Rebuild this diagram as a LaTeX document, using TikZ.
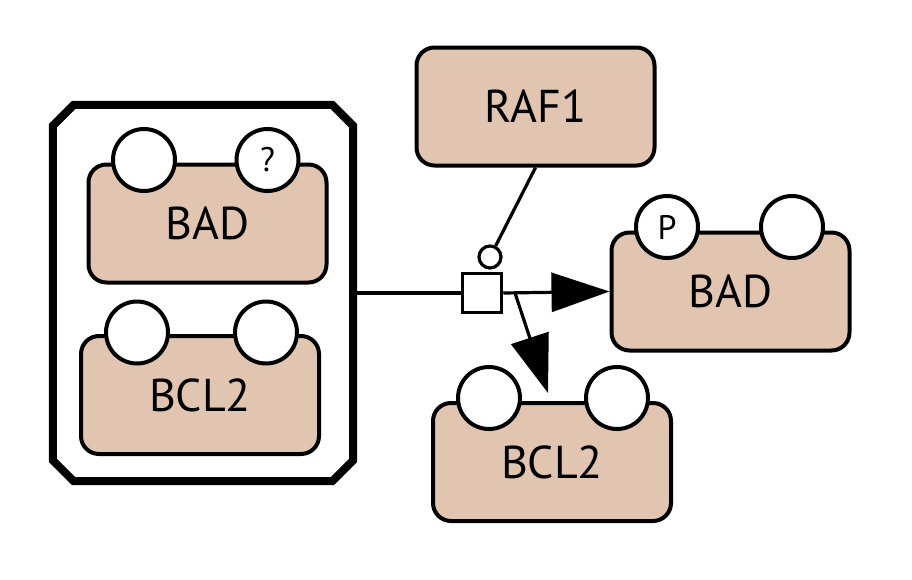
\documentclass[tikz,border=0pt]{standalone}
\usepackage{fontspec}
\setmainfont{PT Sans}
\usetikzlibrary{arrows.meta}
\definecolor{macrofill}{RGB}{226,197,176}

\begin{document}
\begin{tikzpicture}[x=1pt,y=-1pt,
    macro/.style={draw,line width=4pt,fill=macrofill,rounded corners=18pt,
        minimum width=238pt,minimum height=118pt,font=\fontsize{46}{50}\selectfont},
    svar/.style={circle,draw,line width=4pt,fill=white,minimum size=62pt,
        inner sep=0pt,font=\fontsize{34}{38}\selectfont},
    cplx/.style={line width=8pt,line join=miter},
    arc/.style={line width=3.2pt},
    prod/.style={arc,-{Triangle[length=58pt,width=39pt]}}]
    \useasboundingbox (0,0) rectangle (912,579);

    \node[minimum width=300pt,minimum height=376pt,inner sep=0pt] (cx) at (203,293) {};
    \draw[cplx] ([xshift=21pt]cx.north west) -- ([xshift=-21pt]cx.north east)
        -- ([yshift=-21pt]cx.north east) -- ([yshift=21pt]cx.south east)
        -- ([xshift=-21pt]cx.south east) -- ([xshift=21pt]cx.south west)
        -- ([yshift=21pt]cx.south west) -- ([yshift=-21pt]cx.north west) -- cycle;
    \node[macro] (bad1) at (207.5,223.5) {BAD};
    \node[svar] (bad1a) at (144,160) {};
    \node[svar] (bad1b) at (267.5,160) {?};
    \node[macro] (bcl1) at (200,395) {BCL2};
    \node[svar] (bcl1a) at (137,332.5) {};
    \node[svar] (bcl1b) at (266,332.5) {};

    \node[macro] (raf) at (535.5,106.5) {RAF1};

    \node[macro] (bad2) at (730.5,291.5) {BAD};
    \node[svar] (bad2a) at (667,227) {P};
    \node[svar] (bad2b) at (792,227) {};

    \node[macro] (bcl2) at (552,462) {BCL2};
    \node[svar] (bcl2a) at (489,398) {};
    \node[svar] (bcl2b) at (617,398) {};

    \node[draw,line width=3.5pt,fill=white,minimum size=39pt,inner sep=0pt] (pr) at (482,293) {};
    \node[circle,draw,line width=3.2pt,fill=white,minimum size=22pt,inner sep=0pt] (mod) at (490,257) {};
    \coordinate (pe) at (515,293);
    \coordinate (tip) at (548,393);

    \draw[arc] (cx.east) -- (pr.west);
    \draw[arc] (raf.south) -- (mod);
    \draw[prod] (pr.east) -- (bad2.west);
    \draw[prod] (pe) -- (tip);
\end{tikzpicture}
\end{document}
